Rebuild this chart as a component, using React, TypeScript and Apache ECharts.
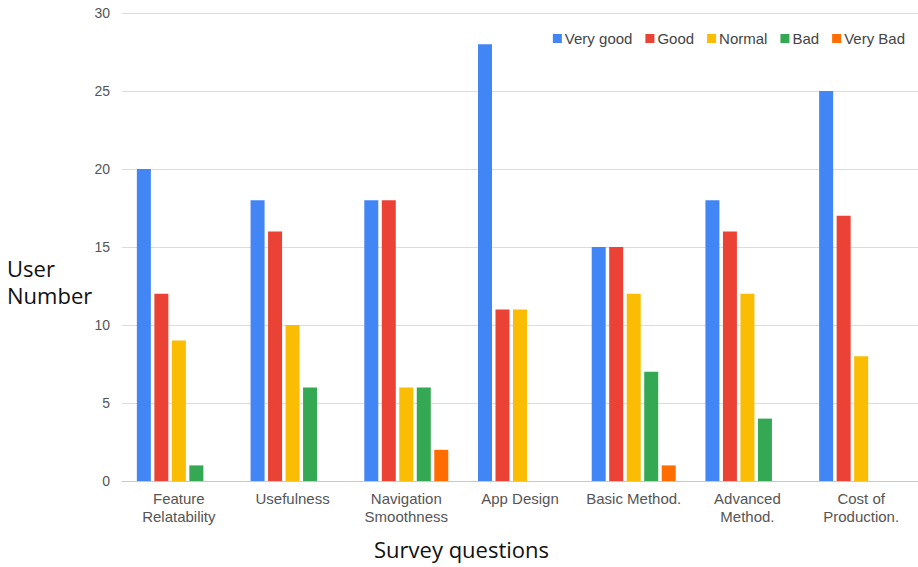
import React, { useEffect, useRef } from "react";
import * as echarts from "echarts";

const categories = [
  "Feature\nRelatability",
  "Usefulness",
  "Navigation\nSmoothness",
  "App Design",
  "Basic Method.",
  "Advanced\nMethod.",
  "Cost of\nProduction.",
];

const veryGood = [20, 18, 18, 28, 15, 18, 25];
const good = [12, 16, 18, 11, 15, 16, 17];
const normal = [9, 10, 6, 11, 12, 12, 8];
const bad = [1, 6, 6, 0, 7, 4, 0];
const veryBad = [0, 0, 2, 0, 1, 0, 0];

const seriesNames = ["Very good", "Good", "Normal", "Bad", "Very Bad"];
const seriesColors = ["#4285F4", "#EA4335", "#FBBC04", "#34A853", "#FF6D01"];
const seriesData = [veryGood, good, normal, bad, veryBad];

const yTicks = { min: 0, max: 30, interval: 5 };

export default function App() {
  const ref = useRef<HTMLDivElement>(null);

  useEffect(() => {
    if (!ref.current) return;
    const chart = echarts.init(ref.current, undefined, { renderer: "svg" });
    const labelFont = "Arial, 'Liberation Sans', sans-serif";
    const titleFont = "'Open Sans', 'Noto Sans', sans-serif";

    chart.setOption({
      animation: false,
      backgroundColor: "#ffffff",
      grid: { left: 122, right: 0, top: 13, bottom: 86, containLabel: false },
      legend: {
        top: 26,
        right: 8,
        itemWidth: 9,
        itemHeight: 9,
        itemGap: 13,
        icon: "rect",
        textStyle: { color: "#444444", fontSize: 15, fontFamily: labelFont, padding: [0, 0, 0, -2] },
        data: seriesNames,
      },
      xAxis: {
        type: "category",
        data: categories,
        axisLine: { show: true, lineStyle: { color: "#c8c8c8", width: 1 } },
        axisTick: { show: false },
        axisLabel: {
          color: "#555555",
          fontSize: 15,
          fontFamily: labelFont,
          lineHeight: 18,
          margin: 8,
          interval: 0,
        },
      },
      yAxis: {
        type: "value",
        min: yTicks.min,
        max: yTicks.max,
        interval: yTicks.interval,
        axisLine: { show: false },
        axisTick: { show: false },
        splitLine: { lineStyle: { color: "#dcdcdc", width: 1 } },
        axisLabel: { color: "#555555", fontSize: 14, fontFamily: labelFont, margin: 12 },
      },
      graphic: [
        {
          type: "text",
          left: 7,
          top: 257,
          style: { text: "User", fontSize: 22, fontFamily: titleFont, fill: "#111111" },
        },
        {
          type: "text",
          left: 7,
          top: 284,
          style: { text: "Number", fontSize: 22, fontFamily: titleFont, fill: "#111111" },
        },
        {
          type: "text",
          left: 374,
          top: 538,
          style: { text: "Survey questions", fontSize: 22, fontFamily: titleFont, fill: "#111111" },
        },
      ],
      series: seriesNames.map((name, i) => ({
        name,
        type: "bar",
        data: seriesData[i],
        barWidth: 14,
        barGap: "25%",
        itemStyle: { color: seriesColors[i] },
      })),
    });

    return () => chart.dispose();
  }, []);

  return (
    <div
      ref={ref}
      style={{ position: "fixed", left: 0, top: 0, width: 918, height: 567 }}
    />
  );
}
